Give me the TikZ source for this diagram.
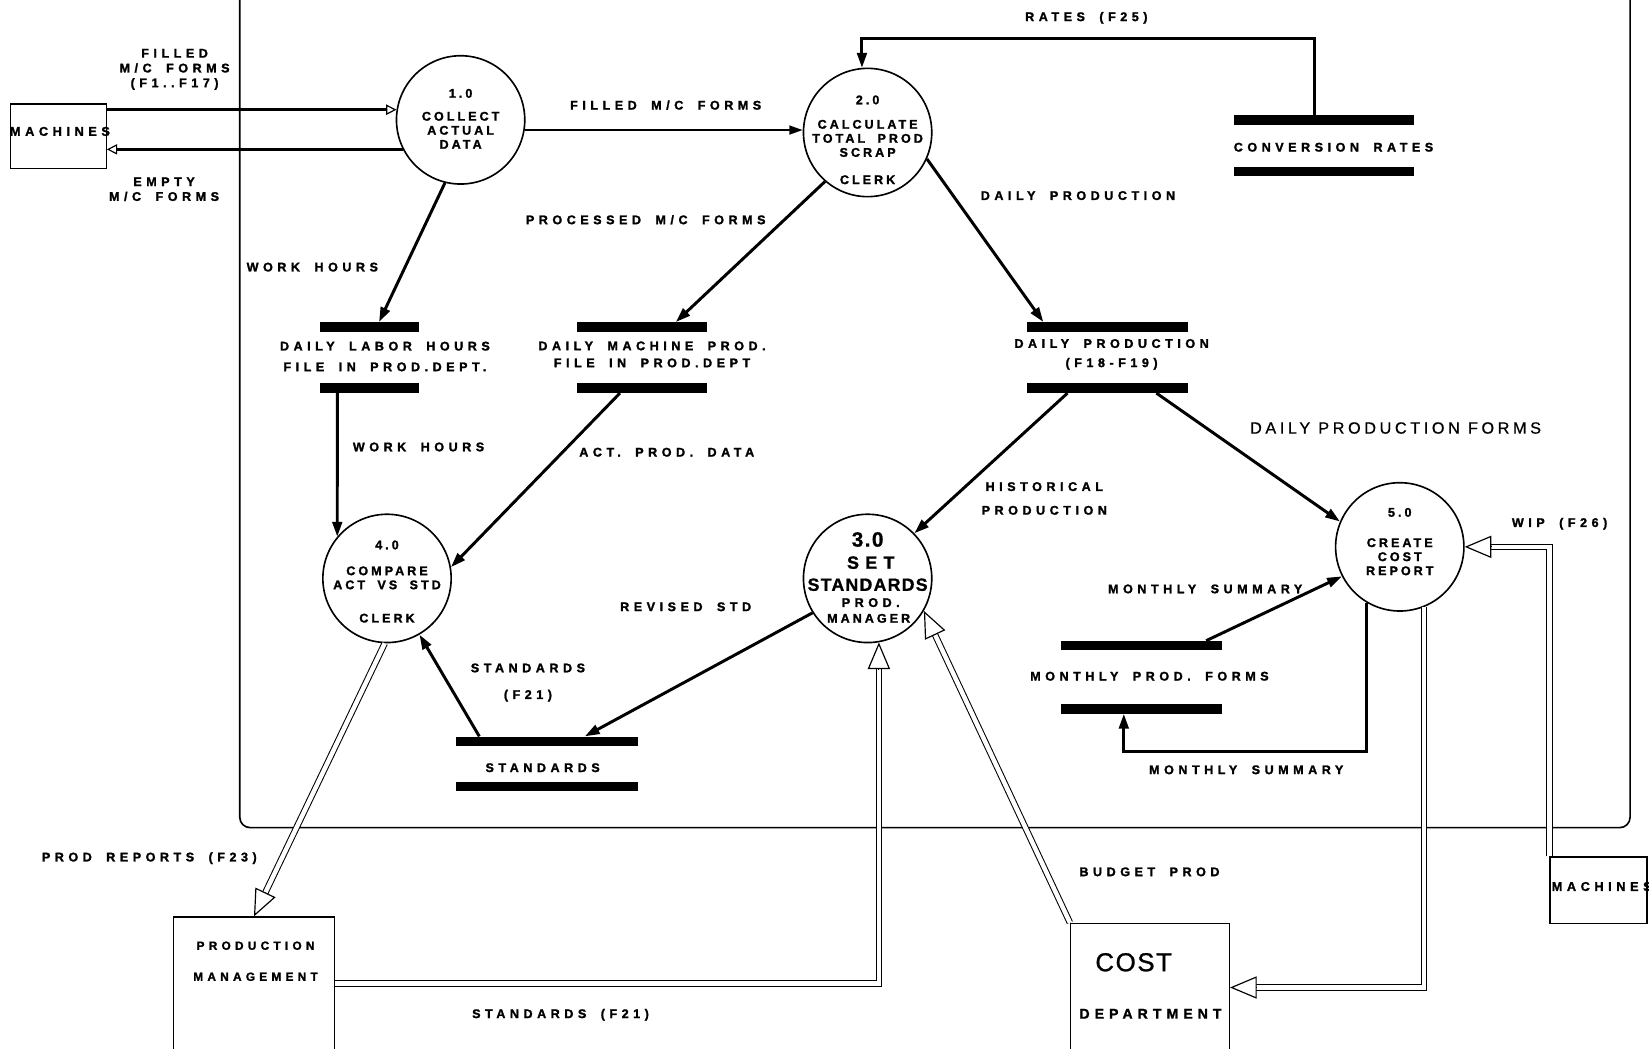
\documentclass[tikz,border=0pt]{standalone}
\usepackage{fontspec}
\setmainfont{Liberation Sans}
\newfontfamily\lblfont{Liberation Sans}[LetterSpace=36, WordSpace=1.8, UprightFont={* Bold}, FakeBold=1.6]
\newfontfamily\procfont{Liberation Sans}[LetterSpace=24, WordSpace=1.9, UprightFont={* Bold}, FakeBold=1.6]
\newfontfamily\midfont{Liberation Sans}[LetterSpace=22, FakeBold=0.6]
\newfontfamily\tightfont{Liberation Sans}[LetterSpace=7, UprightFont={* Bold}, FakeBold=1]
\newfontfamily\bigfont{Liberation Sans}[LetterSpace=6, FakeBold=1]
\usetikzlibrary{arrows.meta,calc}
\def\pxu{0.025cm}
\begin{document}
\begin{tikzpicture}[x=\pxu,y=-\pxu,
  lbl/.style={font=\lblfont\fontsize{8.5}{10}\selectfont, inner sep=0pt, align=center},
  lblgap/.style={lbl, font=\lblfont\fontsize{8.5}{#1}\selectfont},
  ptext/.style={font=\procfont\fontsize{8.5}{9.5}\selectfont, inner sep=0pt, align=center},
  proc/.style={circle, draw, line width=1.1pt, minimum size=122*\pxu, inner sep=0pt},
  bar/.style={fill=black, inner sep=0pt, minimum height=9*\pxu},
  ext/.style={draw, line width=0.9pt, inner sep=0pt},
  flow/.style={line width=2pt, -{Triangle[length=10pt,width=6.5pt]}},
  thinflow/.style={line width=1.3pt, -{Triangle[length=9pt,width=6pt]}},
  feed/.style={line width=1.9pt, -{Triangle[open,fill=white,length=7pt,width=7pt,line width=0.8pt]}},
  shaft/.style={double, double distance=3pt, line width=0.7pt, shorten >=16pt},
  bighead/.style={line width=0.8pt, -{Triangle[open,fill=white,length=18pt,width=15pt]}},
]
\useasboundingbox (0,0) rectangle (1568,997);

% system boundary
\draw[line width=1.1pt, rounded corners=7pt] (228,-5) -- (228,787) -- (1550,787) -- (1550,-5);

% processes
\node[proc] (c1) at (438,114) {};
\node[proc] (c2) at (825,126) {};
\node[proc] (c4) at (368,550) {};
\node[proc] (c3) at (825,550) {};
\node[proc] (c5) at (1331,520) {};

\node[ptext] (c1t) at (438,113) {1.0\\[6pt]COLLECT\\ACTUAL\\DATA};
\node[ptext] (c2t) at (825,133) {2.0\\[7pt]CALCULATE\\TOTAL PROD\\SCRAP\\[9pt]CLERK};
\node[ptext] (c4t) at (368,553) {4.0\\[8pt]COMPARE\\ACT VS STD\\[13pt]CLERK};
\node[ptext] (c5t) at (1331,515) {5.0\\[11pt]CREATE\\COST\\REPORT};
\node[font=\tightfont\fontsize{14}{14}\selectfont, inner sep=0pt] (c3a) at (825,513) {3.0};
\node[font=\lblfont\fontsize{12}{12}\selectfont, inner sep=0pt] (c3b) at (828,535) {SET};
\node[font=\tightfont\fontsize{12}{12}\selectfont, inner sep=0pt] (c3c) at (825,556) {STANDARDS};
\node[lbl] (c3d) at (828,573) {PROD.};
\node[ptext] (c3e) at (826,588) {MANAGER};

% data stores
\node[bar, minimum width=94*\pxu] (dlhT) at (351,311) {};
\node[bar, minimum width=94*\pxu] (dlhB) at (351,369) {};
\node[lblgap=14] (dlhL) at (366,339) {DAILY LABOR HOURS\\FILE IN PROD.DEPT.};

\node[bar, minimum width=123*\pxu] (dmpT) at (610.5,311) {};
\node[bar, minimum width=123*\pxu] (dmpB) at (610.5,369) {};
\node[lblgap=11.5] (dmpL) at (620,337) {DAILY MACHINE PROD.\\FILE IN PROD.DEPT};

\node[bar, minimum width=153*\pxu] (dpT) at (1053.5,311) {};
\node[bar, minimum width=153*\pxu] (dpB) at (1053.5,369) {};
\node[lblgap=13] (dpL) at (1057,337) {DAILY PRODUCTION\\(F18-F19)};

\node[bar, minimum width=172*\pxu] (crT) at (1259,114) {};
\node[bar, minimum width=172*\pxu] (crB) at (1259,163) {};
\node[lbl] (crL) at (1268,140) {CONVERSION RATES};

\node[bar, minimum width=173*\pxu] (stT) at (520.5,705) {};
\node[bar, minimum width=173*\pxu] (stB) at (520.5,748) {};
\node[lbl] (stL) at (516,730) {STANDARDS};

\node[bar, minimum width=153*\pxu] (mpfT) at (1085.5,614) {};
\node[bar, minimum width=153*\pxu] (mpfB) at (1085.5,674) {};
\node[lbl] (mpfL) at (1093,643) {MONTHLY PROD. FORMS};

% external entities
\node[ext, minimum width=91*\pxu, minimum height=61*\pxu] (m1) at (55.5,129.5) {};
\node[lbl, font=\lblfont\fontsize{8.6}{8}\selectfont] (m1t) at (57,125) {MACHINES};
\node[ext, minimum width=92*\pxu, minimum height=63*\pxu] (m2) at (1520,846.5) {};
\node[lbl, font=\lblfont\fontsize{8.6}{8}\selectfont] (m2t) at (1523,843) {MACHINES};
\node[ext, minimum width=153*\pxu, minimum height=126*\pxu] (pm) at (241.5,935) {};
\node[lbl, font=\lblfont\fontsize{8}{21}\selectfont] (pmt) at (243,914) {PRODUCTION\\MANAGEMENT};
\node[ext, minimum width=151*\pxu, minimum height=122*\pxu] (cost) at (1093.5,939) {};
\node[font=\bigfont\fontsize{17.5}{17.5}\selectfont, inner sep=0pt] (costA) at (1078,915) {COST};
\node[lbl, font=\lblfont\fontsize{9.5}{10}\selectfont] (costB) at (1094,964) {DEPARTMENT};

% attachment points on the stores
\coordinate (dlhIn)  at ($(dlhT.north west)!0.6!(dlhT.north east)$);
\coordinate (dlhOut) at ($(dlhB.south west)!0.18!(dlhB.south east)$);
\coordinate (dmpIn)  at ($(dmpT.north west)!0.76!(dmpT.north east)$);
\coordinate (dmpOut) at ($(dmpB.south west)!0.33!(dmpB.south east)$);
\coordinate (dpIn)   at ($(dpT.north west)!0.1!(dpT.north east)$);
\coordinate (dpOutA) at ($(dpB.south west)!0.25!(dpB.south east)$);
\coordinate (dpOutB) at ($(dpB.south west)!0.8!(dpB.south east)$);
\coordinate (crOut)  at ($(crT.north west)!0.45!(crT.north east)$);
\coordinate (stIn)   at ($(stT.north west)!0.705!(stT.north east)$);
\coordinate (stOut)  at ($(stT.north west)!0.127!(stT.north east)$);
\coordinate (mpfOut) at ($(mpfT.north west)!0.9!(mpfT.north east)$);
\coordinate (mpfIn)  at ($(mpfB.south west)!0.39!(mpfB.south east)$);

% data flows
\draw[feed] (m1.east |- c1.171) -- (c1.171);
\draw[feed] (c1.-153) -- (m1.east |- c1.-153);
\draw[thinflow] (c1.-9) -- (c1.-9 -| c2.west);
\draw[flow] (crOut) |- ($(c2.95)+(0,-28)$) -- (c2.95);
\draw[flow] (c2.-131) -- (dmpIn);
\draw[flow] (c2.-24) -- (dpIn);
\draw[flow] (c1.-104) -- (dlhIn);
\draw[flow] (dlhOut) -- (c4.140);
\draw[flow] (dmpOut) -- (c4.10);
\draw[flow] (dpOutA) -- (c3.44);
\draw[flow] (dpOutB) -- (c5.157);
\draw[flow] (c3.-148) -- (stIn);
\draw[flow] (stOut) -- (c4.-60);
\draw[flow] (mpfOut) -- (c5.-153);
\draw[flow] (c5.-121) |- ($(mpfIn)+(0,36)$) -- (mpfIn);

% flows to and from the outside
\draw[shaft] (c4.-92) -- (pm.north);
\draw[bighead] ($(pm.north)!18pt!(c4.-92)$) -- (pm.north);
\draw[shaft] (pm.east) -| (c3.-80);
\draw[bighead] ($(c3.-80)+(0,-18pt)$) -- (c3.-80);
\draw[shaft] (cost.north west) -- (c3.-30);
\draw[bighead] ($(c3.-30)!18pt!(cost.north west)$) -- (c3.-30);
\draw[shaft] (c5.-68) |- (cost.east);
\draw[bighead] ($(cost.east)+(18pt,0)$) -- (cost.east);
\draw[shaft] (m2.north west) |- (c5.east);
\draw[bighead] ($(c5.east)+(18pt,0)$) -- (c5.east);

% flow labels
\node[lbl] (lFilled) at (166,66) {FILLED\\M/C FORMS\\(F1..F17)};
\node[lbl] (lEmpty) at (156,180) {EMPTY\\M/C FORMS};
\node[lbl] (lFwd) at (633,100) {FILLED M/C FORMS};
\node[lbl] (lRates) at (1033,17) {RATES (F25)};
\node[lbl] (lProc) at (614,209) {PROCESSED M/C FORMS};
\node[lbl] (lDP) at (1025,186) {DAILY PRODUCTION};
\node[lbl] (lWH1) at (297,254) {WORK HOURS};
\node[lbl] (lWH2) at (398,425) {WORK HOURS};
\node[lbl] (lAct) at (634,430) {ACT. PROD. DATA};
\node[lblgap=16] (lHist) at (993,474) {HISTORICAL\\PRODUCTION};
\node[font=\midfont\fontsize{11}{11}\selectfont, inner sep=0pt] (lDPF) at (1327,407) {DAILY PRODUCTION FORMS};
\node[lbl] (lRev) at (652,577) {REVISED STD};
\node[lblgap=18] (lStd) at (502,649) {STANDARDS\\(F21)};
\node[lbl] (lRep) at (142,816) {PROD REPORTS (F23)};
\node[lbl] (lStd2) at (533,965) {STANDARDS (F21)};
\node[lbl] (lBud) at (1093,829) {BUDGET PROD};
\node[lbl] (lWip) at (1483,498) {WIP (F26)};
\node[lbl] (lMS1) at (1146,560) {MONTHLY SUMMARY};
\node[lbl] (lMS2) at (1185,732) {MONTHLY SUMMARY};
\end{tikzpicture}
\end{document}
